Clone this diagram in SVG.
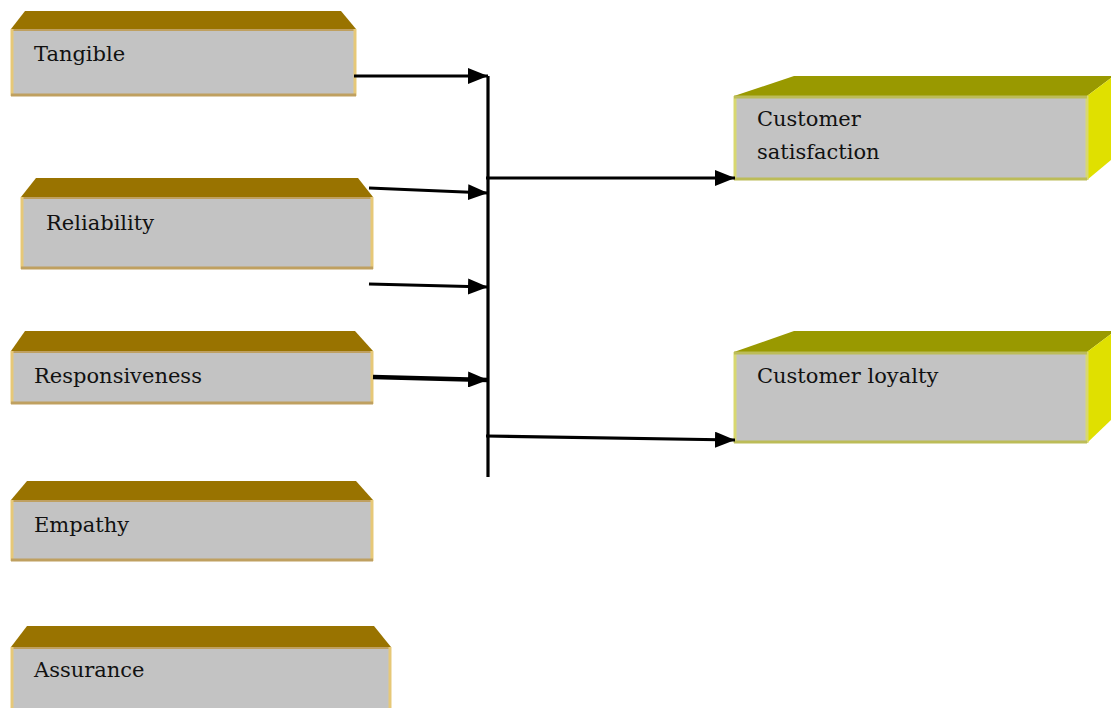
<svg xmlns="http://www.w3.org/2000/svg" width="1111" height="708" viewBox="0 0 1111 708">
<style>
.front{fill:#c3c3c3}
.topL{fill:#997300}
.topR{fill:#999900}
.side{fill:#e0e000}
.lb{stroke:#e6c878;stroke-width:3}
.bb{stroke:#bfa060;stroke-width:3}
.tb{stroke:#bfa060;stroke-width:2}
.lbR{stroke:#d8d870;stroke-width:3}
.bbR{stroke:#bcbc58;stroke-width:3}
.t{font-family:"DejaVu Serif",serif;font-size:21px;fill:#111}
.c{stroke:#000;stroke-width:3.2;fill:none}
</style>
<defs>
<marker id="ah" markerWidth="20" markerHeight="16" refX="20" refY="8" orient="auto" markerUnits="userSpaceOnUse"><path d="M0,0 L20,8 L0,16 Z" fill="#000"/></marker>
</defs>
<g id="tangible">
<polygon class="topL" points="11,29 25,11 341,11 356,29"/>
<rect class="front" x="11" y="29" width="345" height="67"/>
<line class="tb" x1="11" y1="30" x2="356" y2="30"/>
<line class="lb" x1="12" y1="29" x2="12" y2="96"/>
<line class="lb" x1="355" y1="29" x2="355" y2="96"/>
<line class="bb" x1="11" y1="95" x2="356" y2="95"/>
<text class="t" x="34" y="61">Tangible</text>
</g>
<g id="reliability">
<polygon class="topL" points="21,197 36,178 358,178 373,197"/>
<rect class="front" x="21" y="197" width="352" height="72"/>
<line class="tb" x1="21" y1="198" x2="373" y2="198"/>
<line class="lb" x1="22" y1="197" x2="22" y2="269"/>
<line class="lb" x1="372" y1="197" x2="372" y2="269"/>
<line class="bb" x1="21" y1="268" x2="373" y2="268"/>
<text class="t" x="46" y="230">Reliability</text>
</g>
<g id="responsiveness">
<polygon class="topL" points="11,351 25,331 355,331 373,351"/>
<rect class="front" x="11" y="351" width="362" height="53"/>
<line class="tb" x1="11" y1="352" x2="373" y2="352"/>
<line class="lb" x1="12" y1="351" x2="12" y2="404"/>
<line class="lb" x1="372" y1="351" x2="372" y2="404"/>
<line class="bb" x1="11" y1="403" x2="373" y2="403"/>
<text class="t" x="34" y="383">Responsiveness</text>
</g>
<g id="empathy">
<polygon class="topL" points="11,500 27,481 356,481 373,500"/>
<rect class="front" x="11" y="500" width="362" height="61"/>
<line class="tb" x1="11" y1="501" x2="373" y2="501"/>
<line class="lb" x1="12" y1="500" x2="12" y2="561"/>
<line class="lb" x1="372" y1="500" x2="372" y2="561"/>
<line class="bb" x1="11" y1="560" x2="373" y2="560"/>
<text class="t" x="34" y="532">Empathy</text>
</g>
<g id="assurance">
<polygon class="topL" points="11,647 27,626 374,626 391,647"/>
<rect class="front" x="11" y="647" width="380" height="61"/>
<line class="tb" x1="11" y1="648" x2="391" y2="648"/>
<line class="lb" x1="12" y1="647" x2="12" y2="708"/>
<line class="lb" x1="390" y1="647" x2="390" y2="708"/>
<text class="t" x="34" y="677">Assurance</text>
</g>
<g id="satisfaction">
<polygon class="topR" points="734,96 794,76 1111,76 1111,78 1087,96"/>
<polygon class="side" points="1087,96 1111,78 1111,160 1087,180"/>
<rect class="front" x="734" y="96" width="353" height="84"/>
<line class="lbR" x1="735" y1="96" x2="735" y2="180"/>
<line class="lbR" x1="1087" y1="96" x2="1087" y2="180"/>
<line class="bbR" x1="734" y1="97" x2="1087" y2="97"/>
<line class="bbR" x1="734" y1="179" x2="1087" y2="179"/>
<text class="t" x="757" y="126">Customer</text>
<text class="t" x="757" y="159">satisfaction</text>
</g>
<g id="loyalty">
<polygon class="topR" points="734,352 794,331 1111,331 1111,334 1087,352"/>
<polygon class="side" points="1087,352 1111,334 1111,420 1087,443"/>
<rect class="front" x="734" y="352" width="353" height="91"/>
<line class="lbR" x1="735" y1="352" x2="735" y2="443"/>
<line class="lbR" x1="1087" y1="352" x2="1087" y2="443"/>
<line class="bbR" x1="734" y1="353" x2="1087" y2="353"/>
<line class="bbR" x1="734" y1="442" x2="1087" y2="442"/>
<text class="t" x="757" y="383">Customer loyalty</text>
</g>
<g id="connectors">
<line class="c" x1="488" y1="76" x2="488" y2="477"/>
<line class="c" x1="354" y1="76" x2="488" y2="76" marker-end="url(#ah)"/>
<line class="c" x1="369" y1="188" x2="488" y2="193" marker-end="url(#ah)"/>
<line class="c" x1="369" y1="284" x2="488" y2="287" marker-end="url(#ah)"/>
<line class="c" x1="373" y1="377" x2="488" y2="380" style="stroke-width:4.5" marker-end="url(#ah)"/>
<line class="c" x1="486" y1="178" x2="735" y2="178" marker-end="url(#ah)"/>
<line class="c" x1="486" y1="436" x2="735" y2="440" marker-end="url(#ah)"/>
</g>
</svg>
